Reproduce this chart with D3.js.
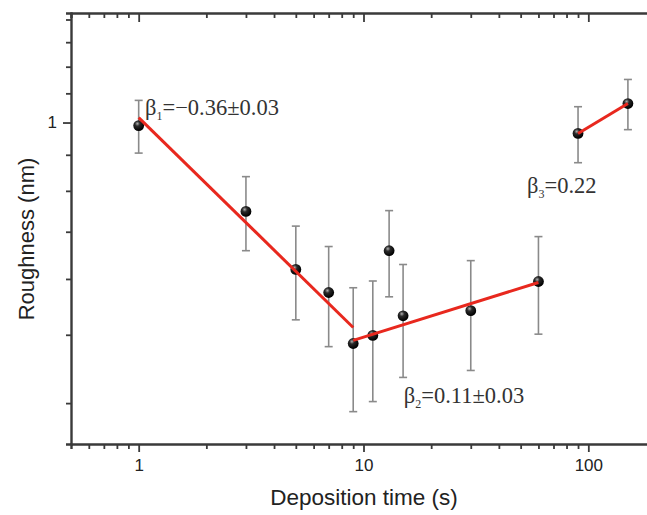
<!DOCTYPE html>
<html>
<head>
<meta charset="utf-8">
<script src="https://cdn.jsdelivr.net/npm/d3@7"></script>
<style>
  html, body { margin: 0; padding: 0; background: #fff; }
  svg { display: block; }
</style>
</head>
<body>
<svg id="chart" width="647" height="515"></svg>
<script>
// Surface roughness versus deposition time (log–log)
const times     = [1, 3, 5, 7, 9, 11, 13, 15, 30, 60, 90, 150];
const roughness = [0.99, 0.748, 0.619, 0.574, 0.486, 0.499, 0.658, 0.532, 0.541, 0.595, 0.965, 1.064];
const errors    = [0.085, 0.09, 0.094, 0.093, 0.097, 0.097, 0.092, 0.097, 0.096, 0.094, 0.088, 0.087];

// Power-law fit segments: [t0, R0, t1, R1]
const fitSegments = [
  [1, 1.016, 9, 0.512],
  [9, 0.491, 60, 0.593],
  [90, 0.965, 150, 1.064]
];

// Growth exponent annotations, anchored in data coordinates (time, roughness)
const fitLabels = [
  { sub: "1", text: "=\u22120.36\u00B10.03" },
  { sub: "2", text: "=0.11\u00B10.03" },
  { sub: "3", text: "=0.22" }
];
const labelAnchors = [[1.067, 1.025], [15.1, 0.400], [53.4, 0.794]];

const xTickValues = [0.6, 0.7, 0.8, 0.9, 1, 2, 3, 4, 5, 6, 7, 8, 9, 10, 20, 30, 40, 50, 60, 70, 80, 90, 100, 200];
const xMajor = [1, 10, 100];
const yTickValues = [0.4, 0.5, 0.6, 0.7, 0.8, 0.9, 1, 1.1, 1.2, 1.3, 1.4];
const yMajor = [1];

const svg = d3.select("#chart");
const plotLeft = 71, plotRight = 656, plotTop = 13, plotBottom = 444;

const x = d3.scaleLog().domain([0.5, 200]).range([plotLeft, plotRight]);
const y = d3.scaleLog().domain([0.35, 1.43]).range([plotBottom, plotTop]);

const axisColor = "#3a3a3a";

// radial shading for the spherical markers
const defs = svg.append("defs");
const grad = defs.append("radialGradient").attr("id", "ball")
  .attr("cx", "38%").attr("cy", "32%").attr("r", "65%");
grad.append("stop").attr("offset", "0%").attr("stop-color", "#b0b0b0");
grad.append("stop").attr("offset", "35%").attr("stop-color", "#2a2a2a");
grad.append("stop").attr("offset", "100%").attr("stop-color", "#000");

// bottom axis
const xAxis = svg.append("g").attr("transform", `translate(0,${plotBottom})`)
  .call(d3.axisBottom(x).tickValues(xTickValues)
    .tickFormat(d => xMajor.includes(d) ? d3.format("d")(d) : "")
    .tickSizeOuter(0).tickSize(5).tickPadding(10));
xAxis.selectAll(".tick line").attr("y2", d => xMajor.includes(d) ? 8 : 5);

// top axis, ticks pointing inward
const xTop = svg.append("g").attr("transform", `translate(0,${plotTop})`)
  .call(d3.axisBottom(x).tickValues(xTickValues).tickFormat("").tickSizeOuter(0).tickSize(5));
xTop.selectAll(".tick line").attr("y2", d => xMajor.includes(d) ? 9 : 5);

// left axis
const yAxis = svg.append("g").attr("transform", `translate(${plotLeft},0)`)
  .call(d3.axisLeft(y).tickValues(yTickValues)
    .tickFormat(d => yMajor.includes(d) ? "1" : "")
    .tickSizeOuter(0).tickSize(5).tickPadding(6));
yAxis.selectAll(".tick line").attr("x2", d => yMajor.includes(d) ? -8 : -5);
yAxis.selectAll(".tick text").attr("dx", "-3");

[xAxis, xTop, yAxis].forEach(g => {
  g.selectAll(".domain").attr("stroke", axisColor).attr("stroke-width", 2.4);
  g.selectAll(".tick line").attr("stroke", axisColor).attr("stroke-width", 1.8);
  g.selectAll(".tick text").attr("fill", "#222")
    .style("font-family", "'Liberation Sans', Arial, sans-serif").style("font-size", "17px");
});

// right frame edge
svg.append("line").attr("x1", plotRight).attr("x2", plotRight).attr("y1", plotTop).attr("y2", plotBottom)
  .attr("stroke", axisColor).attr("stroke-width", 2.4);

// axis titles
svg.append("text")
  .attr("transform", `translate(34,239) rotate(-90)`)
  .attr("text-anchor", "middle")
  .style("font-family", "'Liberation Sans', Arial, sans-serif").style("font-size", "22px")
  .attr("fill", "#222").text("Roughness (nm)");
svg.append("text")
  .attr("x", 364).attr("y", 505).attr("text-anchor", "middle")
  .style("font-family", "'Liberation Sans', Arial, sans-serif").style("font-size", "22.5px")
  .attr("fill", "#222").text("Deposition time (s)");

// error bars
const cap = 4;
const eb = svg.append("g").attr("stroke", "#8a8a8a").attr("stroke-width", 1.6).attr("fill", "none");
times.forEach((t, i) => {
  const cx = x(t), y1 = y(roughness[i] + errors[i]), y2 = y(roughness[i] - errors[i]);
  eb.append("line").attr("x1", cx).attr("x2", cx).attr("y1", y1).attr("y2", y2);
  eb.append("line").attr("x1", cx - cap).attr("x2", cx + cap).attr("y1", y1).attr("y2", y1);
  eb.append("line").attr("x1", cx - cap).attr("x2", cx + cap).attr("y1", y2).attr("y2", y2);
});

// data markers
svg.append("g").selectAll("circle").data(times).join("circle")
  .attr("cx", d => x(d)).attr("cy", (d, i) => y(roughness[i])).attr("r", 5.4)
  .attr("fill", "url(#ball)");

// fit lines
svg.append("g").selectAll("line").data(fitSegments).join("line")
  .attr("x1", d => x(d[0])).attr("y1", d => y(d[1]))
  .attr("x2", d => x(d[2])).attr("y2", d => y(d[3]))
  .attr("stroke", "#e8281e").attr("stroke-width", 3).attr("stroke-linecap", "butt");

// exponent labels
fitLabels.forEach((lab, i) => {
  const t = svg.append("text")
    .attr("x", x(labelAnchors[i][0])).attr("y", y(labelAnchors[i][1]))
    .style("font-family", "'Liberation Serif', 'Times New Roman', serif").style("font-size", "22.5px")
    .attr("fill", "#333");
  t.append("tspan").text("\u03B2");
  t.append("tspan").attr("dy", 5).style("font-size", "12px").text(lab.sub);
  t.append("tspan").attr("dy", -5).text(lab.text);
});
</script>
</body>
</html>
